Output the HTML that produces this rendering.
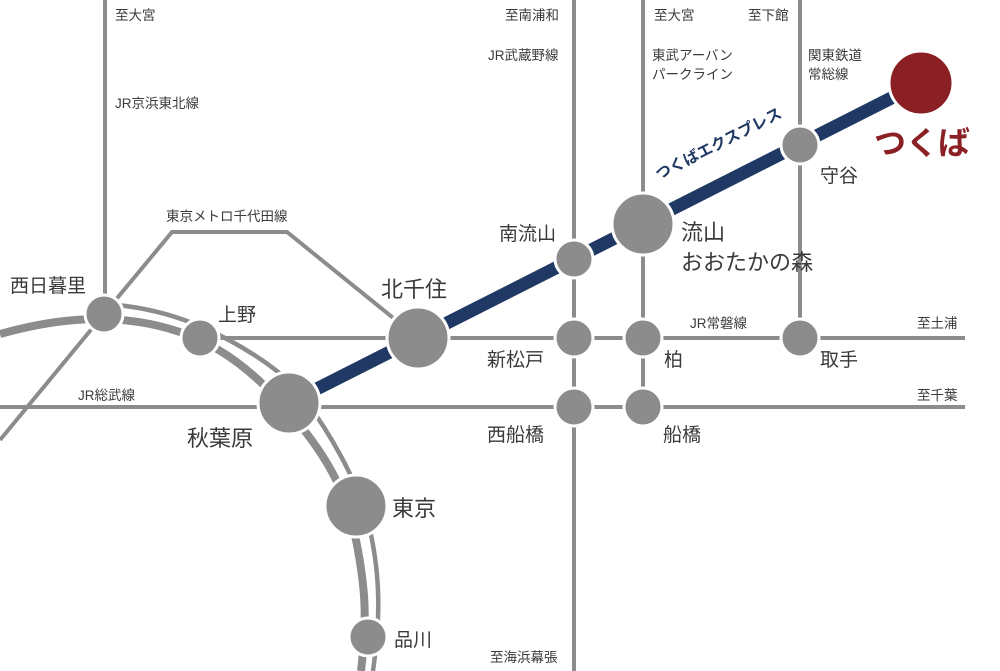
<!DOCTYPE html>
<html><head><meta charset="utf-8"><style>
html,body{margin:0;padding:0;background:#fff}
svg{display:block}
text{font-family:"Liberation Sans","Noto Sans CJK JP",sans-serif;fill:#3a3a3a}
.s{font-size:13.5px}
.m{font-size:19px}
.l{font-size:22px}
</style></head><body>
<svg width="1000" height="671" viewBox="0 0 1000 671" xmlns="http://www.w3.org/2000/svg">
<g stroke="#8c8c8c" fill="none" stroke-width="4">
<line x1="105" y1="0" x2="105" y2="314"/>
<polyline points="0,440 104,314 172,232 287,232 418,338"/>
<line x1="200" y1="338" x2="965" y2="338"/>
<line x1="0" y1="407" x2="965" y2="407"/>
<line x1="574" y1="0" x2="574" y2="671"/>
<line x1="643" y1="0" x2="643" y2="407"/>
<line x1="800" y1="0" x2="800" y2="338"/>
<path d="M0,334 C50,320 100,314 150,324 S240,357 283,405 S346,490 356,540 S367,620 361,671" stroke-width="8"/>
<path d="M104,304 C140,306 172,314 202,327 S282,368 304,398 S359,480 370,530 S380,620 373,671" stroke-width="4.5"/>
</g>
<line x1="289" y1="403" x2="921" y2="83" stroke="#1f3864" stroke-width="13"/>
<g fill="#8c8c8c" stroke="#fff" stroke-width="3">
<circle cx="104" cy="314" r="19"/>
<circle cx="200" cy="338" r="19"/>
<circle cx="289" cy="403" r="31"/>
<circle cx="356" cy="506" r="31"/>
<circle cx="368" cy="637" r="19"/>
<circle cx="418" cy="338" r="31"/>
<circle cx="574" cy="259" r="19"/>
<circle cx="643" cy="224" r="31"/>
<circle cx="800" cy="145" r="19"/>
<circle cx="574" cy="338" r="19"/>
<circle cx="643" cy="338" r="19"/>
<circle cx="800" cy="338" r="19"/>
<circle cx="574" cy="407" r="19"/>
<circle cx="643" cy="407" r="19"/>
<circle cx="921" cy="83" r="32" fill="#8b2024"/>
</g>
<text class="s" x="115" y="20">至大宮</text>
<text class="s" x="115" y="108">JR京浜東北線</text>
<text class="s" x="166" y="221">東京メトロ千代田線</text>
<text class="s" x="505" y="20">至南浦和</text>
<text class="s" x="488" y="60">JR武蔵野線</text>
<text class="s" x="654" y="20">至大宮</text>
<text class="s" x="652" y="60">東武アーバン</text>
<text class="s" x="652" y="79">パークライン</text>
<text class="s" x="748" y="20">至下館</text>
<text class="s" x="808" y="60">関東鉄道</text>
<text class="s" x="808" y="79">常総線</text>
<text class="s" x="690" y="328">JR常磐線</text>
<text class="s" x="917" y="328">至土浦</text>
<text class="s" x="78" y="400">JR総武線</text>
<text class="s" x="917" y="400">至千葉</text>
<text class="s" x="490" y="662">至海浜幕張</text>
<text x="659" y="180" transform="rotate(-27 659 180)" style="font-size:15.5px;font-weight:bold;fill:#1f3864">つくばエクスプレス</text>
<text class="m" x="10" y="292">西日暮里</text>
<text class="m" x="218" y="321">上野</text>
<text class="l" x="381" y="297">北千住</text>
<text class="l" x="187" y="446">秋葉原</text>
<text class="l" x="392" y="516">東京</text>
<text class="m" x="394" y="646">品川</text>
<text class="m" x="499" y="240">南流山</text>
<text class="l" x="681" y="240">流山</text>
<text class="l" x="681" y="270">おおたかの森</text>
<text class="m" x="820" y="182">守谷</text>
<text x="874" y="154" style="font-size:32px;font-weight:bold;fill:#8b2024">つくば</text>
<text class="m" x="487" y="366">新松戸</text>
<text class="m" x="664" y="366">柏</text>
<text class="m" x="820" y="366">取手</text>
<text class="m" x="487" y="441">西船橋</text>
<text class="m" x="663" y="441">船橋</text>
</svg>
</body></html>
